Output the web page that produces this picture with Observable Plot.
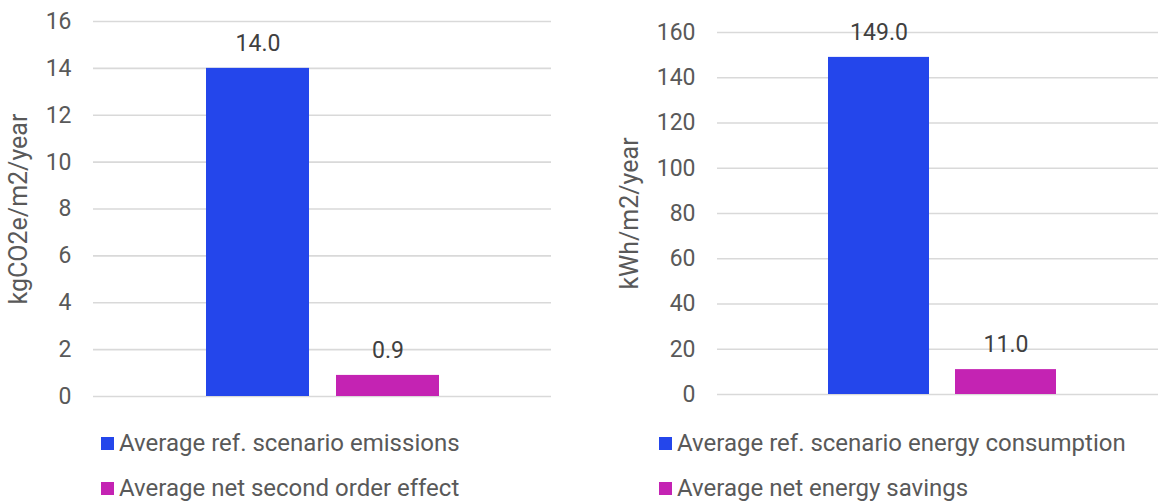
<!DOCTYPE html>
<html>
<head>
<meta charset="utf-8">
<script src="https://cdn.jsdelivr.net/npm/d3@7"></script>
<script src="https://cdn.jsdelivr.net/npm/@observablehq/plot@0.6"></script>
<style>
  body { margin: 0; background: #fff; font-family: Roboto, "Noto Sans", sans-serif; }
  #wrap { display: flex; width: 1158px; height: 502px; overflow: hidden; }
  .panel { position: relative; flex: none; }
  .legend { position: absolute; font-size: 24px; color: #595959; line-height: 24px; }
  .legend .row { position: absolute; white-space: nowrap; display: flex; align-items: center; }
  .legend .sw { width: 13px; height: 13px; display: inline-block; margin-right: 5px; }
  svg [aria-label="y-axis label"] text, svg [aria-label="y-axis label"] { font-size: 25px; }
</style>
</head>
<body>
<div id="wrap">
  <div class="panel" id="p1" style="width:580px"></div>
  <div class="panel" id="p2" style="width:578px"></div>
</div>
<script>
// ---- data ----
const emissionCategories = ["Average ref. scenario emissions", "Average net second order effect"];
const emissionValues = [14.0, 0.9];
const emissionTicks = [0, 2, 4, 6, 8, 10, 12, 14, 16];

const energyCategories = ["Average ref. scenario energy consumption", "Average net energy savings"];
const energyValues = [149.0, 11.0];
const energyTicks = [0, 20, 40, 60, 80, 100, 120, 140, 160];

const colors = ["#2446EB", "#C423B3"];

function makeChart(el, cats, vals, ticks, cfg) {
  const data = cats.map((c, i) => ({cat: c, value: vals[i], color: colors[i]}));
  const chart = Plot.plot({
    width: cfg.width,
    height: 410,
    marginTop: cfg.marginTop,
    marginBottom: cfg.marginBottom,
    marginLeft: cfg.marginLeft,
    marginRight: cfg.marginRight,
    style: {fontFamily: "Roboto, sans-serif", fontSize: "23px", color: "#595959", background: "#fff", overflow: "visible"},
    x: {domain: cats, range: cfg.xRange, paddingInner: 0.2077, paddingOuter: 0, axis: null},
    y: {domain: [0, ticks[ticks.length - 1]], ticks: ticks, tickSize: 0, tickPadding: 22,
        label: cfg.label, labelAnchor: "center", labelArrow: "none", labelOffset: cfg.labelOffset},
    marks: [
      Plot.ruleY(ticks, {stroke: "#d9d9d9", strokeWidth: 1.6}),
      Plot.barY(data, {x: "cat", y: "value", fill: "color"}),
      Plot.text(data, {x: "cat", y: "value", text: d => d.value.toFixed(1), dy: -25, fontSize: 23, fill: "#404040"})
    ]
  });
  el.appendChild(chart);
  const lg = document.createElement("div");
  lg.className = "legend";
  lg.style.left = cfg.legendLeft + "px";
  lg.style.top = "0px";
  cats.forEach((c, i) => {
    const row = document.createElement("div");
    row.className = "row";
    row.style.top = (cfg.legendRows[i] - 12) + "px";
    const sw = document.createElement("span");
    sw.className = "sw";
    sw.style.background = colors[i];
    row.appendChild(sw);
    row.appendChild(document.createTextNode(c));
    lg.appendChild(row);
  });
  el.appendChild(lg);
}

makeChart(document.getElementById("p1"), emissionCategories, emissionValues, emissionTicks, {
  width: 580, marginTop: 21, marginBottom: 14, marginLeft: 93, marginRight: 29,
  xRange: [206, 439], label: "kgCO2e/m2/year", labelOffset: 84,
  legendLeft: 101, legendRows: [443, 488]
});
makeChart(document.getElementById("p2"), energyCategories, energyValues, energyTicks, {
  width: 578, marginTop: 32, marginBottom: 16, marginLeft: 137, marginRight: 0,
  xRange: [247, 476], label: "kWh/m2/year", labelOffset: 97,
  legendLeft: 79, legendRows: [443, 488]
});
</script>
</body>
</html>
